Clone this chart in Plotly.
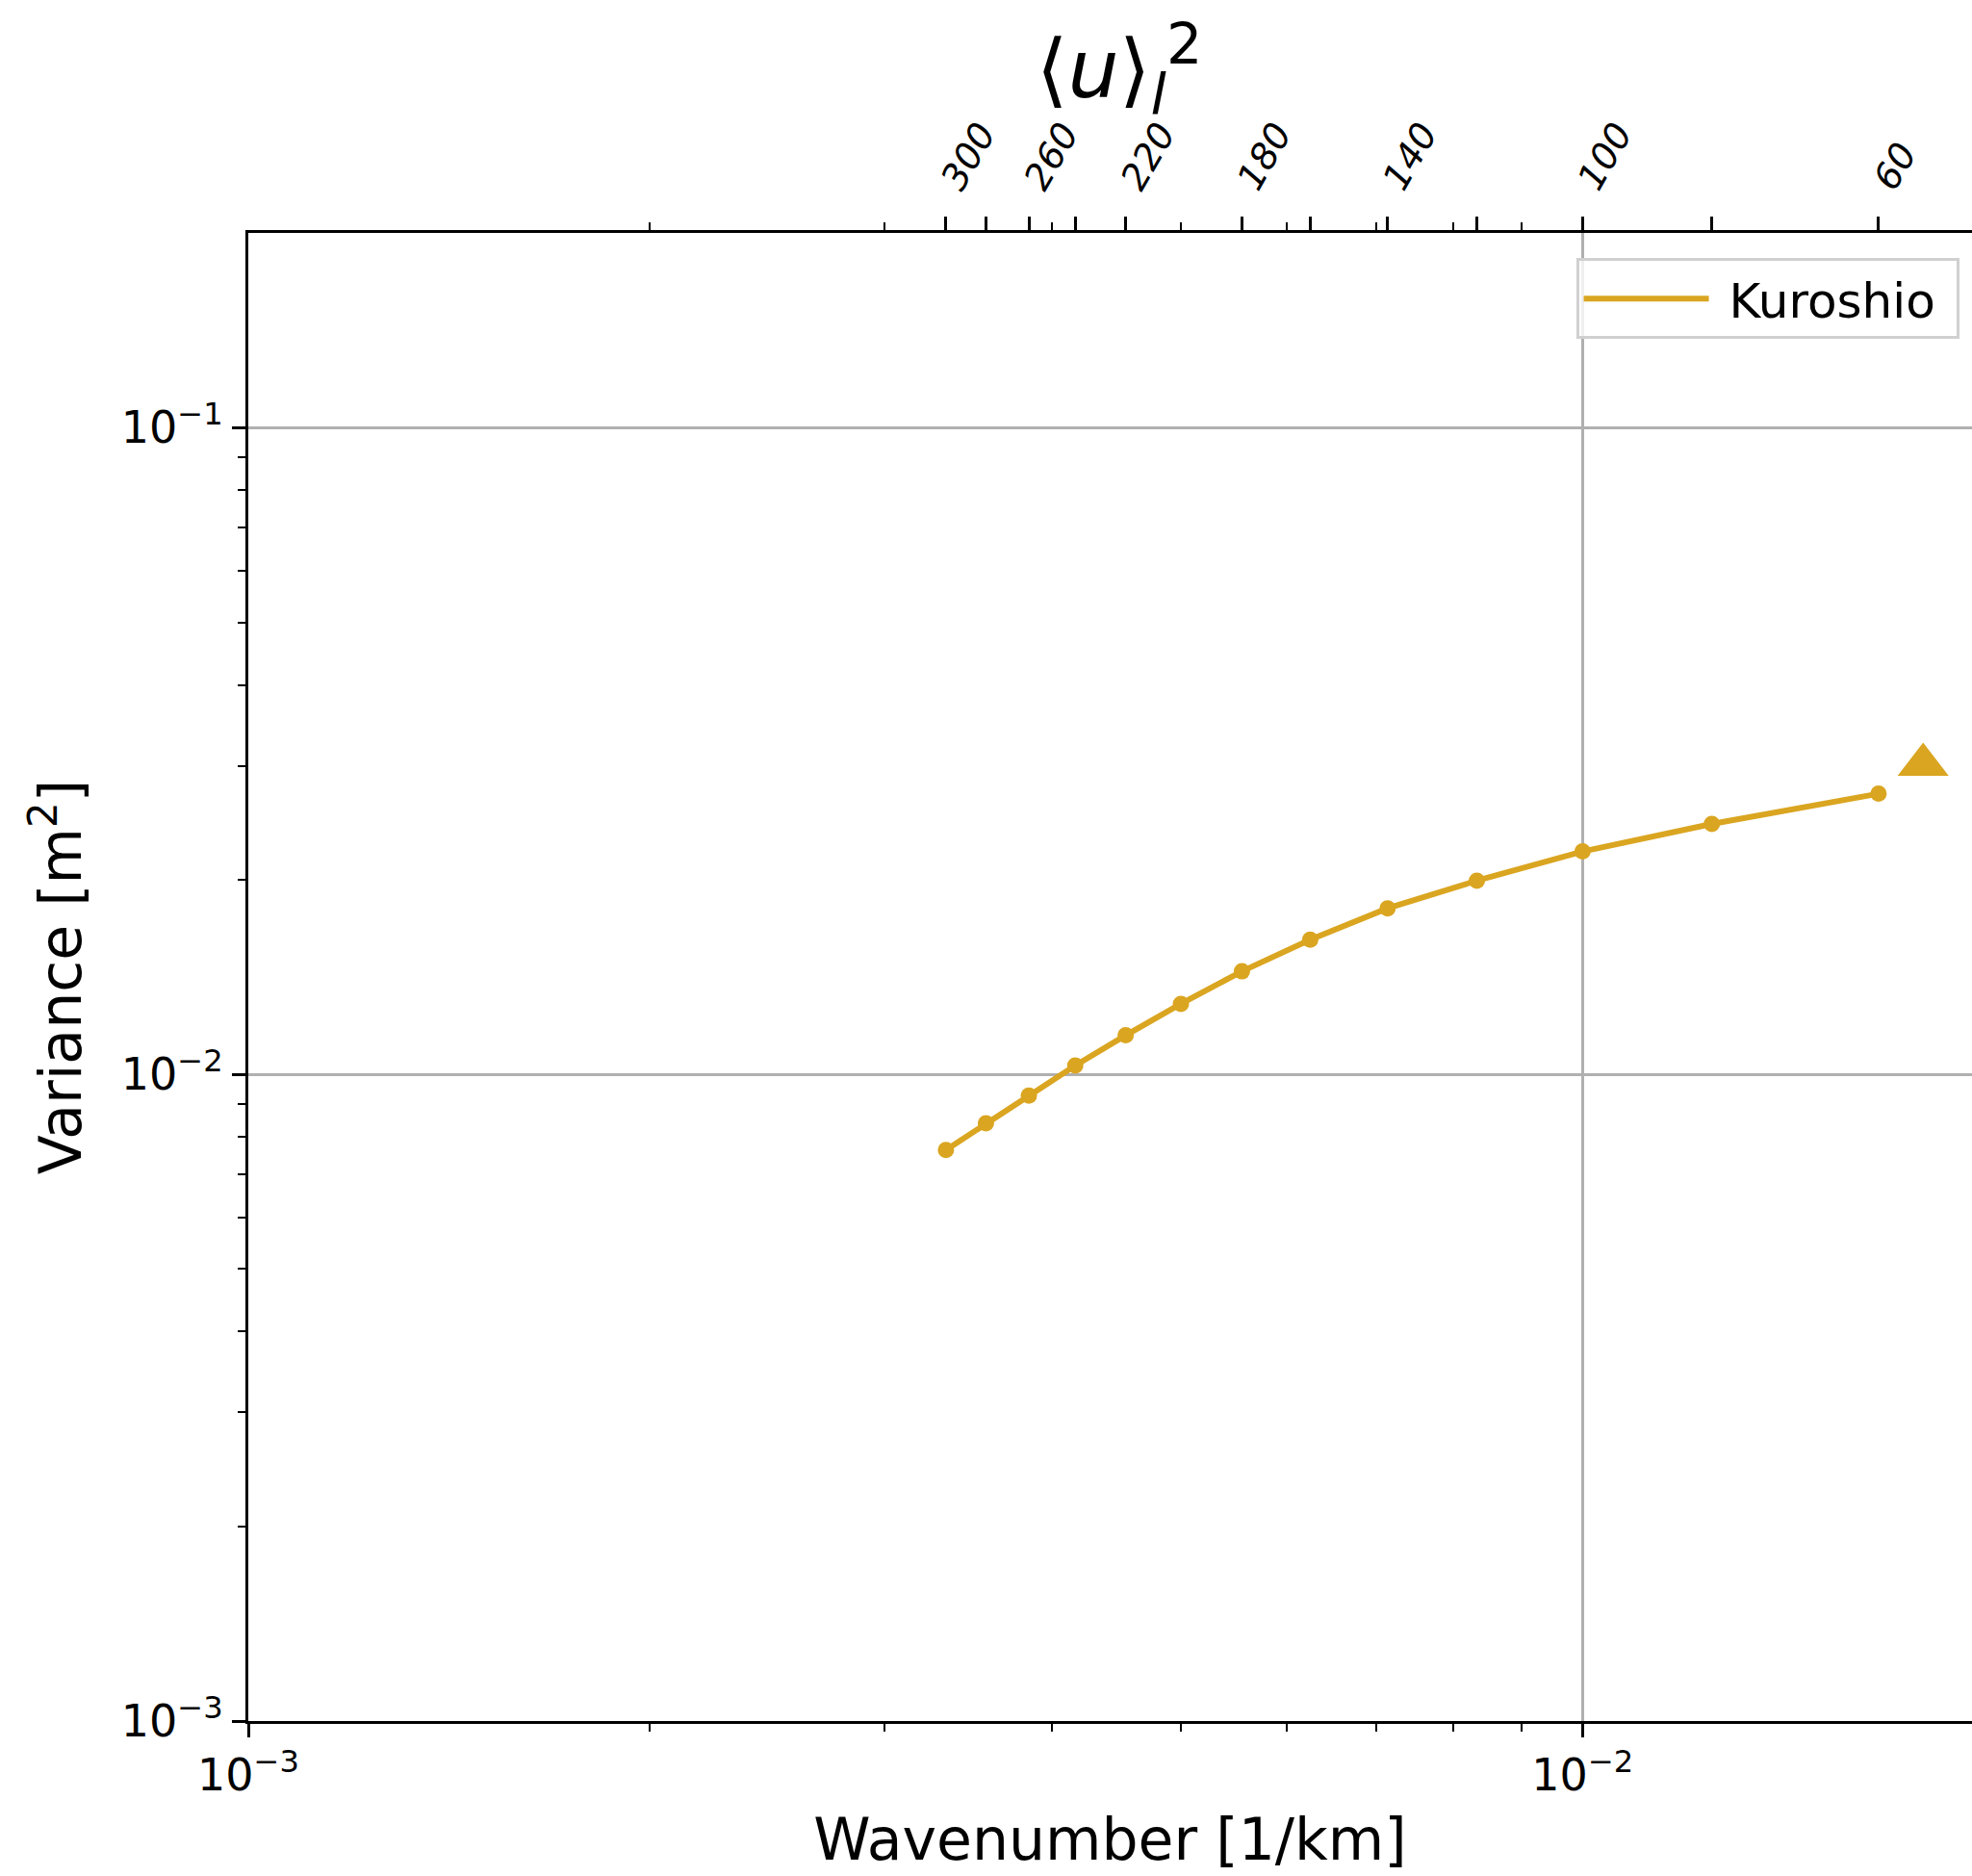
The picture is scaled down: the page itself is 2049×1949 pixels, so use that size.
import plotly.graph_objects as go
import math

# ---- data ----
wavelength_km = [300, 280, 260, 240, 220, 200, 180, 160, 140, 120, 100, 80, 60]
variance = [0.00764, 0.00840, 0.00927, 0.01032, 0.01149, 0.01285, 0.01443,
            0.01615, 0.01806, 0.01993, 0.02211, 0.02439, 0.02716]
extra_x = [0.0180]
extra_y = [0.0301]
top_labels = ["300", "", "260", "", "220", "", "180", "", "140", "", "100", "", "60"]

wavenumber = [1.0 / w for w in wavelength_km]

COLOR = "#DAA520"
FONT = "DejaVu Sans"

x_range = [-3, -1.7081]
y_range = [-3, math.log10(0.2)]

minor_x = [0.002, 0.003, 0.004, 0.005, 0.006, 0.007, 0.008, 0.009]
minor_y = [k * 1e-3 for k in range(2, 10)] + [k * 1e-2 for k in range(2, 10)]

fig = go.Figure()
fig.add_trace(go.Scatter(x=wavenumber, y=variance, mode="lines",
                         name="\u00a0Kuroshio\u00a0",
                         line=dict(color=COLOR, width=6)))
fig.add_trace(go.Scatter(x=wavenumber, y=variance, mode="markers", showlegend=False,
                         marker=dict(color=COLOR, size=17)))
fig.add_trace(go.Scatter(x=extra_x, y=extra_y, mode="markers", showlegend=False,
                         marker=dict(color=COLOR, size=46, symbol="triangle-up")))
# invisible trace to activate top axis
fig.add_trace(go.Scatter(x=wavenumber, y=variance, xaxis="x2", mode="markers",
                         showlegend=False, marker=dict(opacity=0), hoverinfo="skip"))

fig.update_layout(
    width=2049, height=1949,
    margin=dict(l=258, r=0, t=242, b=161),
    paper_bgcolor="white", plot_bgcolor="white",
    font=dict(family=FONT, color="black", size=46),
    title=dict(text="⟨<i>u</i>⟩<sub><i>l</i></sub><sup>2</sup>", x=0.5676, xanchor="center",
               y=1 - 72 / 1949, yanchor="middle", font=dict(size=84)),
    xaxis=dict(type="log", range=x_range, domain=[0, 1],
               tickvals=[1e-3, 1e-2], ticktext=["10<sup>−3</sup>", "10<sup>−2</sup>"],
               ticks="outside", ticklen=14, tickwidth=2.5, tickcolor="black",
               showline=True, linewidth=3, linecolor="black",
               showgrid=True, gridcolor="#b0b0b0", gridwidth=2.5, zeroline=False,
               minor=dict(tickvals=minor_x, ticks="outside", ticklen=8, tickwidth=2,
                          tickcolor="black", showgrid=False),
               tickfont=dict(size=46),
               title=dict(text="Wavenumber [1/km]", font=dict(size=60), standoff=20)),
    xaxis2=dict(type="log", range=x_range, overlaying="x", side="top", anchor="y",
                tickvals=wavenumber, ticktext=["<i>%s</i>" % t if t else "" for t in top_labels],
                tickangle=-60, ticks="outside", ticklen=14, tickwidth=2.5, tickcolor="black",
                showline=True, linewidth=3, linecolor="black", showgrid=False, zeroline=False,
                minor=dict(tickvals=minor_x, ticks="outside", ticklen=8, tickwidth=2,
                           tickcolor="black", showgrid=False),
                tickfont=dict(size=38)),
    yaxis=dict(type="log", range=y_range, domain=[0, 1],
               tickvals=[1e-3, 1e-2, 1e-1],
               ticktext=["10<sup>−3</sup>", "10<sup>−2</sup>", "10<sup>−1</sup>"],
               ticks="outside", ticklen=14, tickwidth=2.5, tickcolor="black",
               showline=True, linewidth=3, linecolor="black",
               showgrid=True, gridcolor="#b0b0b0", gridwidth=2.5, zeroline=False,
               minor=dict(tickvals=minor_y, ticks="outside", ticklen=8, tickwidth=2,
                          tickcolor="black", showgrid=False),
               tickfont=dict(size=46),
               title=dict(text="Variance [m<sup>2</sup>]", font=dict(size=60), standoff=22)),
    legend=dict(x=0.9925, y=0.983, xanchor="right", yanchor="top",
                bgcolor="rgba(255,255,255,0.8)", bordercolor="#d0d0d0", borderwidth=3,
                font=dict(size=50), itemwidth=130),
    showlegend=True,
)

fig.write_html("out.html")
